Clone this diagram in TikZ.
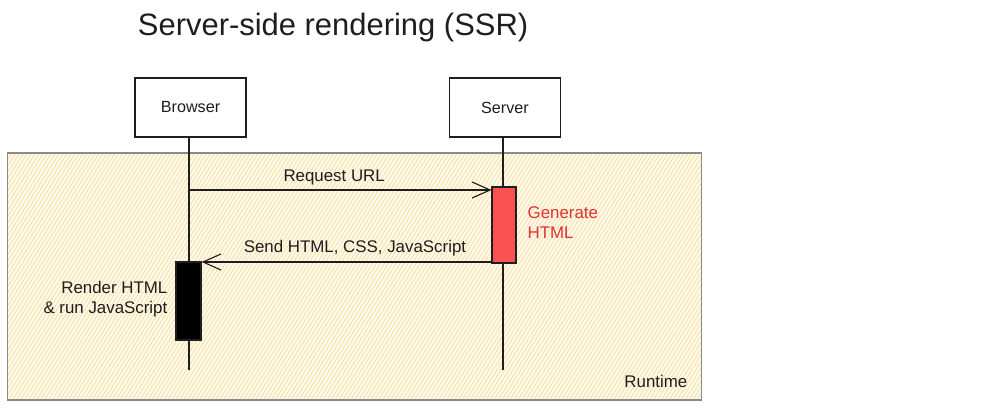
\documentclass[tikz,border=0pt]{standalone}
\usepackage{fontspec}
\setmainfont{Liberation Sans}
\usetikzlibrary{arrows.meta,patterns.meta}
\definecolor{ink}{HTML}{1E1E1E}
\definecolor{hatch}{HTML}{F5D990}
\definecolor{paper}{HTML}{FFFAEC}
\definecolor{framegray}{HTML}{8A8A8A}
\definecolor{genred}{HTML}{FA5252}
\definecolor{gentext}{HTML}{E03131}
\tikzset{
  actor/.style={draw=ink, line width=0.8pt, fill=white, minimum width=2.775cm, minimum height=1.475cm, font=\fontsize{11.5}{13}\selectfont, text=ink},
  lifeline/.style={draw=ink, line width=0.8pt},
  activation/.style={draw=ink, line width=0.8pt, minimum width=0.6cm, minimum height=1.9cm, inner sep=0pt},
  msg/.style={draw=ink, line width=0.8pt, -{Straight Barb[length=4.5mm,width=4mm,line width=0.8pt]}},
  lbl/.style={font=\fontsize{12}{14.2}\selectfont, text=ink, inner sep=1pt},
  framebox/.style={draw=framegray, line width=0.8pt, inner sep=0pt,
    preaction={fill=paper},
    preaction={pattern={Lines[angle=58,distance=2.4pt,line width=0.45pt]}, pattern color=hatch}},
}
\begin{document}
\begin{tikzpicture}[x=0.025cm,y=-0.025cm]
\useasboundingbox (0,0) rectangle (1000,420);
% frame
\node[framebox, minimum width=17.325cm, minimum height=6.175cm] (runtime) at (354.5,276.5) {};
\node[lbl, anchor=south east] (rtlabel) at (689,389) {Runtime};
% title
\node[font=\fontsize{22}{26}\selectfont, text=ink, anchor=west] (title) at (133,28) {Server-side rendering (SSR)};
% actors
\node[actor] (browser) at (190.5,107.5) {Browser};
\node[actor] (server) at (505,107.5) {Server};
\coordinate (bEnd) at (189,370);
\coordinate (sEnd) at (503,370);
\draw[lifeline] (browser.south -| bEnd) -- (bEnd);
\draw[lifeline] (server.south -| sEnd) -- (sEnd);
% activations
\node[activation, fill=genred] (gen) at (504,225) {};
\node[activation, fill=black, minimum height=1.95cm, minimum width=0.625cm] (render) at (188.5,301) {};
\node[lbl, text=gentext, anchor=north west, align=left] (gentxt) at (526,205) {Generate\\HTML};
\node[lbl, anchor=north east, align=right] (rendertxt) at (169,280) {Render HTML\\\& run JavaScript};
% messages
\coordinate (reqS) at (189,190);
\draw[msg] (reqS) -- (reqS -| gen.west) node[lbl, pos=0.48, above=2pt] (reqlbl) {Request URL};
\coordinate (sendS) at (491,262);
\draw[msg] (sendS) -- (sendS -| render.east) node[lbl, pos=0.47, above=3pt] (sendlbl) {Send HTML, CSS, JavaScript};
\end{tikzpicture}
\end{document}
